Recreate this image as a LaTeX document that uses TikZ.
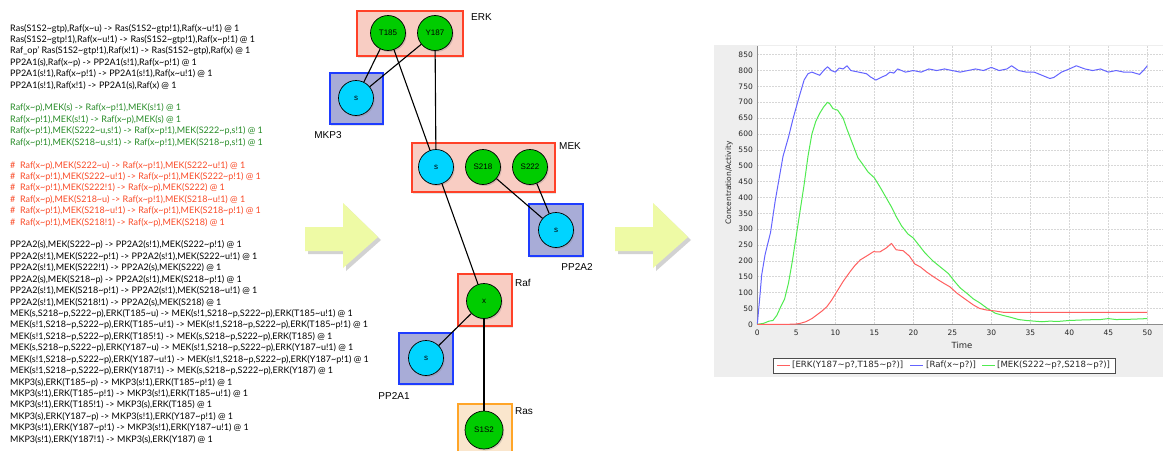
\documentclass[tikz,border=0pt]{standalone}
\usepackage{fontspec}
\setmainfont{Lato}
\newfontfamily\hv{Liberation Sans}
\newfontfamily\dv{DejaVu Sans}
\usetikzlibrary{shadows}
\newcommand\tld{\textasciitilde}
\definecolor{rulegreen}{RGB}{40,140,40}
\definecolor{rulered}{RGB}{250,75,40}
\definecolor{sitegreen}{RGB}{0,204,0}
\definecolor{sitecyan}{RGB}{0,212,255}
\definecolor{redborder}{RGB}{255,65,40}
\definecolor{redfill}{RGB}{248,205,195}
\definecolor{blueborder}{RGB}{30,60,255}
\definecolor{bluefill}{RGB}{168,172,215}
\definecolor{orangeborder}{RGB}{255,165,40}
\definecolor{orangefill}{RGB}{250,230,205}
\definecolor{panelgray}{RGB}{238,238,238}
\definecolor{gridgray}{RGB}{215,215,215}
\definecolor{plotblue}{RGB}{100,100,255}
\definecolor{plotgreen}{RGB}{80,235,80}
\definecolor{plotred}{RGB}{255,95,95}
\definecolor{arrowfill}{RGB}{238,250,165}
\tikzset{
  rule/.style={font=\fontsize{9}{10}\selectfont, inner sep=0pt, anchor=base west},
  site/.style={circle, draw=black, line width=0.7pt, minimum size=35pt, inner sep=0pt,
    font=\hv\fontsize{8}{9}\selectfont,
    drop shadow={opacity=0.3, shadow xshift=1.2pt, shadow yshift=-1.5pt}},
  gsite/.style={site, fill=sitegreen},
  csite/.style={site, fill=sitecyan},
  agentbox/.style={rectangle, line width=1.1pt, inner sep=0pt,
    drop shadow={opacity=0.2, shadow xshift=1.2pt, shadow yshift=-1.5pt}},
  redbox/.style={agentbox, draw=redborder, fill=redfill},
  bluebox/.style={agentbox, draw=blueborder, fill=bluefill},
  orangebox/.style={agentbox, draw=orangeborder, fill=orangefill},
  agentlabel/.style={font=\hv\fontsize{10}{11}\selectfont, inner sep=0pt},
  bond/.style={line width=1.1pt, black},
  bigarrow/.style={fill=arrowfill, draw=none,
    drop shadow={opacity=0.35, shadow xshift=3pt, shadow yshift=-3pt}},
  gridl/.style={gridgray, dash pattern=on 1.5pt off 1.5pt, line width=0.5pt},
  ticklab/.style={font=\dv\fontsize{7.5}{8}\selectfont, inner sep=0pt, text=black!85},
  curve/.style={line width=1pt, line join=round},
  legtext/.style={font=\dv\fontsize{8.6}{9}\selectfont, inner sep=0pt, anchor=west, text=black!85}
}
\newcommand\rl[3]{\node[rule, text=#2] (l#1) at (10,{31+#1*11.42}) {#3};}
\begin{document}
\begin{tikzpicture}[x=1pt,y=-1pt]
\useasboundingbox (0,0) rectangle (1165,450);
\fill[white] (0,0) rectangle (1165,450);

% ---------------- rules text ----------------
\rl{0}{black}{Ras(S1S2\tld gtp),Raf(x\tld u) -> Ras(S1S2\tld gtp!1),Raf(x\tld u!1) @ 1}
\rl{1}{black}{Ras(S1S2\tld gtp!1),Raf(x\tld u!1) -> Ras(S1S2\tld gtp!1),Raf(x\tld p!1) @ 1}
\rl{2}{black}{Raf\_op' Ras(S1S2\tld gtp!1),Raf(x!1) -> Ras(S1S2\tld gtp),Raf(x) @ 1}
\rl{3}{black}{PP2A1(s),Raf(x\tld p) -> PP2A1(s!1),Raf(x\tld p!1) @ 1}
\rl{4}{black}{PP2A1(s!1),Raf(x\tld p!1) -> PP2A1(s!1),Raf(x\tld u!1) @ 1}
\rl{5}{black}{PP2A1(s!1),Raf(x!1) -> PP2A1(s),Raf(x) @ 1}
\rl{7}{rulegreen}{Raf(x\tld p),MEK(s) -> Raf(x\tld p!1),MEK(s!1) @ 1}
\rl{8}{rulegreen}{Raf(x\tld p!1),MEK(s!1) -> Raf(x\tld p),MEK(s) @ 1}
\rl{9}{rulegreen}{Raf(x\tld p!1),MEK(S222\tld u,s!1) -> Raf(x\tld p!1),MEK(S222\tld p,s!1) @ 1}
\rl{10}{rulegreen}{Raf(x\tld p!1),MEK(S218\tld u,s!1) -> Raf(x\tld p!1),MEK(S218\tld p,s!1) @ 1}
\rl{12}{rulered}{\#\ \ Raf(x\tld p),MEK(S222\tld u) -> Raf(x\tld p!1),MEK(S222\tld u!1) @ 1}
\rl{13}{rulered}{\#\ \ Raf(x\tld p!1),MEK(S222\tld u!1) -> Raf(x\tld p!1),MEK(S222\tld p!1) @ 1}
\rl{14}{rulered}{\#\ \ Raf(x\tld p!1),MEK(S222!1) -> Raf(x\tld p),MEK(S222) @ 1}
\rl{15}{rulered}{\#\ \ Raf(x\tld p),MEK(S218\tld u) -> Raf(x\tld p!1),MEK(S218\tld u!1) @ 1}
\rl{16}{rulered}{\#\ \ Raf(x\tld p!1),MEK(S218\tld u!1) -> Raf(x\tld p!1),MEK(S218\tld p!1) @ 1}
\rl{17}{rulered}{\#\ \ Raf(x\tld p!1),MEK(S218!1) -> Raf(x\tld p),MEK(S218) @ 1}
\rl{19}{black}{PP2A2(s),MEK(S222\tld p) -> PP2A2(s!1),MEK(S222\tld p!1) @ 1}
\rl{20}{black}{PP2A2(s!1),MEK(S222\tld p!1) -> PP2A2(s!1),MEK(S222\tld u!1) @ 1}
\rl{21}{black}{PP2A2(s!1),MEK(S222!1) -> PP2A2(s),MEK(S222) @ 1}
\rl{22}{black}{PP2A2(s),MEK(S218\tld p) -> PP2A2(s!1),MEK(S218\tld p!1) @ 1}
\rl{23}{black}{PP2A2(s!1),MEK(S218\tld p!1) -> PP2A2(s!1),MEK(S218\tld u!1) @ 1}
\rl{24}{black}{PP2A2(s!1),MEK(S218!1) -> PP2A2(s),MEK(S218) @ 1}
\rl{25}{black}{MEK(s,S218\tld p,S222\tld p),ERK(T185\tld u) -> MEK(s!1,S218\tld p,S222\tld p),ERK(T185\tld u!1) @ 1}
\rl{26}{black}{MEK(s!1,S218\tld p,S222\tld p),ERK(T185\tld u!1) -> MEK(s!1,S218\tld p,S222\tld p),ERK(T185\tld p!1) @ 1}
\rl{27}{black}{MEK(s!1,S218\tld p,S222\tld p),ERK(T185!1) -> MEK(s,S218\tld p,S222\tld p),ERK(T185) @ 1}
\rl{28}{black}{MEK(s,S218\tld p,S222\tld p),ERK(Y187\tld u) -> MEK(s!1,S218\tld p,S222\tld p),ERK(Y187\tld u!1) @ 1}
\rl{29}{black}{MEK(s!1,S218\tld p,S222\tld p),ERK(Y187\tld u!1) -> MEK(s!1,S218\tld p,S222\tld p),ERK(Y187\tld p!1) @ 1}
\rl{30}{black}{MEK(s!1,S218\tld p,S222\tld p),ERK(Y187!1) -> MEK(s,S218\tld p,S222\tld p),ERK(Y187) @ 1}
\rl{31}{black}{MKP3(s),ERK(T185\tld p) -> MKP3(s!1),ERK(T185\tld p!1) @ 1}
\rl{32}{black}{MKP3(s!1),ERK(T185\tld p!1) -> MKP3(s!1),ERK(T185\tld u!1) @ 1}
\rl{33}{black}{MKP3(s!1),ERK(T185!1) -> MKP3(s),ERK(T185) @ 1}
\rl{34}{black}{MKP3(s),ERK(Y187\tld p) -> MKP3(s!1),ERK(Y187\tld p!1) @ 1}
\rl{35}{black}{MKP3(s!1),ERK(Y187\tld p!1) -> MKP3(s!1),ERK(Y187\tld u!1) @ 1}
\rl{36}{black}{MKP3(s!1),ERK(Y187!1) -> MKP3(s),ERK(Y187) @ 1}

% ---------------- big arrows ----------------
\path[bigarrow] (305,227) -- (343,227) -- (343,203) -- (378,237) -- (343,268) -- (343,251) -- (305,251) -- cycle;
\path[bigarrow] (615,227) -- (653,227) -- (653,203) -- (688,237) -- (653,268) -- (653,251) -- (615,251) -- cycle;

% ---------------- agent boxes ----------------
\node[redbox, minimum width=106pt, minimum height=45pt] (erk) at (410,33.5) {};
\node[bluebox, minimum width=53pt, minimum height=51pt] (mkp3) at (356.5,98.5) {};
\node[redbox, minimum width=143pt, minimum height=49pt] (mek) at (483.5,167.5) {};
\node[bluebox, minimum width=54pt, minimum height=52pt] (pp2a2) at (556,230) {};
\node[redbox, minimum width=54pt, minimum height=52pt] (raf) at (485,300) {};
\node[bluebox, minimum width=54pt, minimum height=51pt] (pp2a1) at (426,358.5) {};
\node[orangebox, minimum width=54pt, minimum height=54pt] (ras) at (485,431) {};

\node[agentlabel, anchor=west] (erkl) at (471,17) {ERK};
\node[agentlabel] (mkp3l) at (328,135) {MKP3};
\node[agentlabel, anchor=west] (mekl) at (559,146) {MEK};
\node[agentlabel] (pp2a2l) at (577,267) {PP2A2};
\node[agentlabel, anchor=west] (rafl) at (515,283) {Raf};
\node[agentlabel] (pp2a1l) at (394,396) {PP2A1};
\node[agentlabel, anchor=west] (rasl) at (515,411) {Ras};

% ---------------- sites ----------------
\node[gsite] (t185) at (388,33) {T185};
\node[gsite] (y187) at (435,33) {Y187};
\node[csite] (mkps) at (356,98) {s};
\node[csite] (meks) at (436,167) {s};
\node[gsite] (s218) at (483,167) {S218};
\node[gsite] (s222) at (530,167) {S222};
\node[csite] (pp2s) at (556,230) {s};
\node[gsite] (rafx) at (484,301) {x};
\node[csite] (pp1s) at (426,358) {s};
\node[gsite, minimum size=38pt] (s1s2) at (484,430) {S1S2};

% ---------------- bonds ----------------
\draw[bond] (t185) -- (mkps);
\draw[bond] (y187) -- (mkps);
\draw[bond] (t185) -- (meks);
\draw[bond] (y187) -- (meks);
\draw[bond] (s218) -- (pp2s);
\draw[bond] (s222) -- (pp2s);
\draw[bond] (meks) -- (rafx);
\draw[bond] (rafx) -- (pp1s);
\draw[bond] (rafx) -- (s1s2);

% ---------------- chart ----------------
\fill[panelgray] (714,45) rectangle (1163,377);
\fill[white] (757.3,46) rectangle (1163,324.3);
\foreach \v in {50,100,...,850} \draw[gridl] (757.3,{324.3-\v*0.3172}) -- (1163,{324.3-\v*0.3172});
\foreach \t in {5,10,...,50} \draw[gridl] ({757.3+\t*7.8},46) -- ({757.3+\t*7.8},324.3);
\draw[black!45, line width=0.7pt] (757.3,46) -- (757.3,324.3) -- (1163,324.3);
\foreach \v in {0,50,...,850} \node[ticklab, anchor=east] (yl\v) at (753,{324.3-\v*0.3172}) {\v};
\foreach \t in {0,5,...,50} \node[ticklab] (xl\t) at ({757.3+\t*7.8},332.5) {\t};
\node[ticklab, font=\dv\fontsize{8.5}{9}\selectfont] (timel) at (962,345) {Time};
\node[ticklab, rotate=90] (ylab) at (729,183) {Concentration/Activity};

\coordinate (o) at (757.3,324.3);
\begin{scope}[shift={(o)}, x=7.8pt, y=0.3172pt]
\draw[curve, plotblue] plot coordinates {(0,0) (0.3,80) (0.56,155) (1.0,220) (1.7,290) (2.3,390) (2.8,460) (3.3,530) (4.0,590) (4.6,650) (5.4,720) (6.0,770) (6.5,790) (7.0,795) (7.5,790) (8.0,785) (8.5,800) (9.0,812) (9.5,800) (10.0,795) (10.5,808) (11,805) (11.5,815) (12,800) (13,795) (14,790) (14.5,780) (15.2,770) (16,780) (16.5,785) (17,795) (17.5,792) (18,805) (19,795) (20,800) (21,795) (22,805) (23,800) (24,805) (25,800) (26,795) (27,800) (28,805) (29,800) (30,810) (31,800) (32,805) (32.6,815) (33.5,800) (34.5,795) (35.5,795) (36.5,785) (37.5,775) (38,778) (39,795) (40,805) (40.9,815) (42,805) (43,800) (44,805) (45,795) (46,800) (47,795) (48,795) (49,788) (49.5,800) (50,815)};
\draw[curve, plotgreen] plot coordinates {(0,0) (0.8,3) (1.5,10) (2.0,12) (2.5,28) (3.0,55) (3.5,80) (4.0,130) (4.5,200) (5.0,280) (5.5,360) (6.0,440) (6.5,530) (7.0,600) (7.5,640) (8.0,665) (8.5,685) (9.0,700) (9.3,695) (9.7,680) (10.3,675) (11,650) (11.5,615) (12.2,570) (12.9,525) (13.5,505) (14.2,480) (15,462) (15.8,430) (16.5,400) (17.2,370) (17.8,340) (18.5,310) (19.3,285) (20,272) (20.7,250) (21.5,225) (22.5,200) (23.5,180) (24.5,160) (25.3,135) (26,115) (27,95) (27.7,80) (28.5,68) (29.5,50) (30.5,35) (31.5,28) (32.5,22) (33.5,15) (34.5,12) (35.5,10) (36.5,8) (37.5,10) (38.5,9) (40,12) (42,14) (44,15) (45,18) (46,15) (48,16) (50,18)};
\draw[curve, plotred] plot coordinates {(0,0) (4,0) (5,1) (5.5,3) (6.2,8) (7,18) (7.6,29) (8.3,42) (8.9,55) (9.5,75) (10.2,103) (11,135) (11.9,166) (12.5,185) (13.2,203) (14,215) (14.9,229) (15.7,228) (16.5,240) (17.2,255) (17.8,235) (18.7,232) (19.5,215) (20.2,190) (20.9,181) (21.7,165) (22.4,153) (23.2,140) (24.0,128) (24.7,118) (25.6,98) (26.5,82) (27.7,61) (28.5,50) (29.4,45) (30.5,42) (31.5,38) (50,38)};
\end{scope}

% legend
\node[draw=black!70, fill=white, line width=0.6pt, minimum width=342pt, minimum height=15pt, inner sep=0pt] (legend) at (944,365.5) {};
\coordinate (lr1) at (777,365.5); \coordinate (lr2) at (790,365.5);
\draw[plotred, line width=1pt] (lr1) -- (lr2);
\node[legtext] (legr) at (792,365.5) {[ERK(Y187\tld p?,T185\tld p?)]};
\coordinate (lb1) at (910,365.5); \coordinate (lb2) at (923,365.5);
\draw[plotblue, line width=1pt] (lb1) -- (lb2);
\node[legtext] (legb) at (926,365.5) {[Raf(x\tld p?)]};
\coordinate (lg1) at (982,365.5); \coordinate (lg2) at (995,365.5);
\draw[plotgreen, line width=1pt] (lg1) -- (lg2);
\node[legtext] (legg) at (997,365.5) {[MEK(S222\tld p?,S218\tld p?)]};
\end{tikzpicture}
\end{document}
